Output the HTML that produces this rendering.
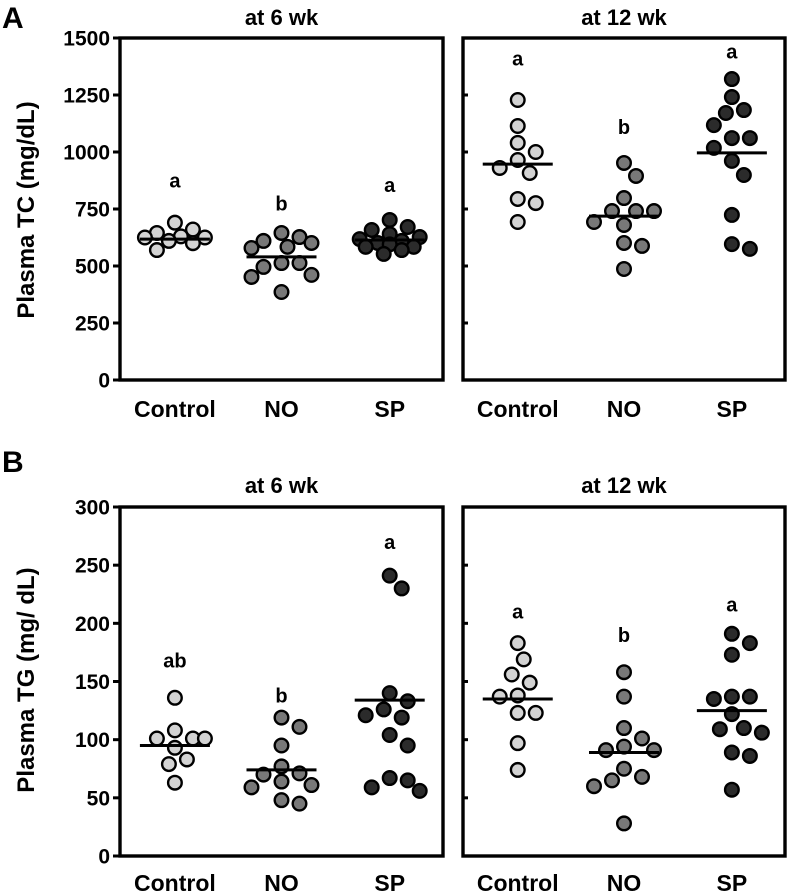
<!DOCTYPE html>
<html><head><meta charset="utf-8"><style>
html,body{margin:0;padding:0;background:#fff;}
svg{display:block;font-family:"Liberation Sans",Arial,sans-serif;font-weight:bold;}
</style></head><body>
<svg id="fig" width="792" height="895" viewBox="0 0 792 895"></svg>
<script>
const categories = ["Control","NO","SP"];
const tcTickLabels = [0,250,500,750,1000,1250,1500];
const tgTickLabels = [0,50,100,150,200,250,300];
// Panel A: Plasma TC
const tc6Control = [660,625,690,600,570,610,625,645,630];
const tc6NO = [627,579,601,610,645,584,513,496,513,461,452,386];
const tc6SP = [702,640,658,671,618,584,553,570,584,627,601,610,595];
const tc12Control = [1228,1114,1040,1000,965,908,930,794,776,693];
const tc12NO = [952,895,798,741,741,741,693,680,601,588,487];
const tc12SP = [1320,1241,1184,1171,1118,1061,1061,1018,961,899,724,596,575];
const tc6Means = [618,540,614];
const tc12Means = [947,719,996];
const tc6Letters = ["a","b","a"];
const tc12Letters = ["a","b","a"];
const tc6LetterVals = [875,775,855];
const tc12LetterVals = [1410,1110,1440];
// Panel B: Plasma TG
const tg6Control = [136,108,101,101,101,93,83,79,63];
const tg6NO = [119,111,95,77,70,71,64,61,59,48,45];
const tg6SP = [241,230,140,133,126,119,121,104,95,65,56,59,67];
const tg12Control = [183,169,156,149,137,138,123,123,97,74];
const tg12NO = [158,137,110,101,94,91,91,75,65,60,68,28];
const tg12SP = [191,183,173,137,135,137,122,110,106,109,89,86,57];
const tg6Means = [95,74,134];
const tg12Means = [135,89,125];
const tg6Letters = ["ab","b","a"];
const tg12Letters = ["a","b","a"];
const tg6LetterVals = [168,138,270];
const tg12LetterVals = [210,190,216];

const NS="http://www.w3.org/2000/svg";
const svg=document.getElementById('fig');
function mk(tag,attrs,parent){const e=document.createElementNS(NS,tag);for(const k in attrs)e.setAttribute(k,attrs[k]);(parent||svg).appendChild(e);return e;}
const fills=["#d3d3d3","#787878","#2b2b2b"];
const R=6.8;

function swarm(vals,yf){
  const pts=vals.map(v=>({v,y:yf(v)})).sort((a,b)=>a.y-b.y);
  const placed=[];
  const d=2*R+3;
  const cands=[0];
  for(let k=1;k<=5;k++){cands.push(k*6,-k*6);}
  pts.forEach(p=>{
    let best=null,bestScore=-1;
    for(const dx of cands){
      const md=placed.length?Math.min(...placed.map(q=>Math.hypot(q.dx-dx,q.y-p.y))):999;
      if(md>=d){best=dx;break;}
      if(md>bestScore){bestScore=md;best=dx;}
    }
    p.dx=best;placed.push(p);
  });
  return pts;
}

function panel(o){
  const g=mk('g',{},svg);
  
  
  const yf=v=>o.y0-(v-o.min)/(o.max-o.min)*(o.y0-o.y1);
  const t=mk('text',{x:(o.x0+o.x1)/2,y:o.titleY,'text-anchor':'middle','font-size':22},g);
  t.textContent=o.title;
  
  
  const b=mk('rect',{x:o.x0,y:o.y1,width:o.x1-o.x0,height:o.y0-o.y1,fill:'none',stroke:'#000','stroke-width':3.4},g);
  
  
  o.ticks.forEach(tv=>{
    const y=yf(tv);
    if(o.outer){
      const l=mk('line',{x1:o.x0-7,x2:o.x0,y1:y,y2:y,stroke:'#000','stroke-width':3},g);
      
      
      const tl=mk('text',{x:o.x0-10,y:y+7.5,'text-anchor':'end','font-size':21},g);
      tl.textContent=tv;
      
      
    } else if(tv!==o.min && tv!==o.max){
      const l=mk('line',{x1:o.x0,x2:o.x0+5,y1:y,y2:y,stroke:'#000','stroke-width':3},g);
      
      
    }
  });
  const w=o.x1-o.x0;
  const cx=[o.x0+w*0.17,o.x0+w*0.5,o.x0+w*0.835];
  o.series.forEach((vals,i)=>{
    const pts=swarm(vals,yf);
    pts.forEach(p=>{
      const c=mk('circle',{cx:cx[i]+p.dx,cy:p.y,r:R,fill:fills[i],stroke:'#000','stroke-width':2.4},g);
      
      
    });
    const my=yf(o.means[i]);
    const ml=mk('line',{x1:cx[i]-35,x2:cx[i]+35,y1:my,y2:my,stroke:'#000','stroke-width':3},g);
    
    
    const lt=mk('text',{x:cx[i],y:yf(o.letterVals[i])+7,'text-anchor':'middle','font-size':20},g);
    lt.textContent=o.letters[i];
    
    
    const cl=mk('text',{x:cx[i],y:o.catY,'text-anchor':'middle','font-size':23},g);
    cl.textContent=categories[i];
    
    
  });
}

panel({name:'panel-a-6wk',title:'at 6 wk',titleY:25,x0:120,x1:443,y0:380,y1:38,min:0,max:1500,ticks:tcTickLabels,outer:true,series:[tc6Control,tc6NO,tc6SP],means:tc6Means,letters:tc6Letters,letterVals:tc6LetterVals,catY:417});
panel({name:'panel-a-12wk',title:'at 12 wk',titleY:25,x0:463,x1:785,y0:380,y1:38,min:0,max:1500,ticks:tcTickLabels,outer:false,series:[tc12Control,tc12NO,tc12SP],means:tc12Means,letters:tc12Letters,letterVals:tc12LetterVals,catY:417});
panel({name:'panel-b-6wk',title:'at 6 wk',titleY:493,x0:120,x1:443,y0:856,y1:507,min:0,max:300,ticks:tgTickLabels,outer:true,series:[tg6Control,tg6NO,tg6SP],means:tg6Means,letters:tg6Letters,letterVals:tg6LetterVals,catY:891});
panel({name:'panel-b-12wk',title:'at 12 wk',titleY:493,x0:463,x1:785,y0:856,y1:507,min:0,max:300,ticks:tgTickLabels,outer:false,series:[tg12Control,tg12NO,tg12SP],means:tg12Means,letters:tg12Letters,letterVals:tg12LetterVals,catY:891});

function txt(s,attrs,name){const e=mk('text',attrs);e.textContent=s;return e;}
txt('A',{x:2,y:28,'font-size':30},'panel-label-a');
txt('B',{x:2,y:472,'font-size':30},'panel-label-b');
txt('Plasma TC (mg/dL)',{x:0,y:0,'font-size':24,'text-anchor':'middle',transform:'translate(34,210) rotate(-90)'},'y-axis-title-tc');
txt('Plasma TG (mg/ dL)',{x:0,y:0,'font-size':24,'text-anchor':'middle',transform:'translate(34,680) rotate(-90)'},'y-axis-title-tg');
</script>
</body></html>
